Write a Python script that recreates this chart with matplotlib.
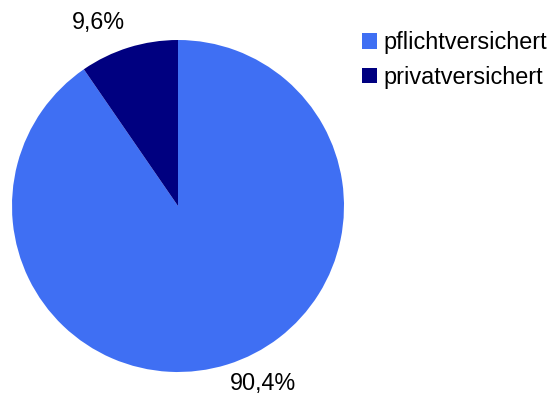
import matplotlib
matplotlib.use("Agg")
import matplotlib.pyplot as plt
from matplotlib.patches import Patch

labels = ["pflichtversichert", "privatversichert"]
shares = [90.4, 9.6]
colors = ["#3f6ff3", "#000080"]

plt.rcParams["font.family"] = ["Liberation Sans", "DejaVu Sans"]

fig = plt.figure(figsize=(5.49, 4.01), dpi=100)
ax = fig.add_axes([12 / 549, 29 / 401, 332 / 549, 332 / 401])

wedges, _ = ax.pie(shares, colors=colors, startangle=90, counterclock=False,
                   radius=1.0, wedgeprops=dict(linewidth=0))
ax.set_xlim(-1, 1)
ax.set_ylim(-1, 1)
ax.set_aspect("equal")

# percentage labels, German decimal comma
label_pos = [(0.512, -1.072), (-0.482, 1.108)]
for val, (x, y) in zip(shares, label_pos):
    ax.text(x, y, ("%.1f%%" % val).replace(".", ","), ha="center", va="center",
            fontsize=16.8, color="black", clip_on=False)

handles = [Patch(facecolor=c, edgecolor="none") for c in colors]
fig.legend(handles, labels, loc="upper left", bbox_to_anchor=(362 / 549, 1 - 31 / 401),
           frameon=False, fontsize=16.9, handlelength=0.64, handleheight=0.64,
           handletextpad=0.26, labelspacing=0.5, borderpad=0, borderaxespad=0)

fig.savefig("out.png", dpi=100)
